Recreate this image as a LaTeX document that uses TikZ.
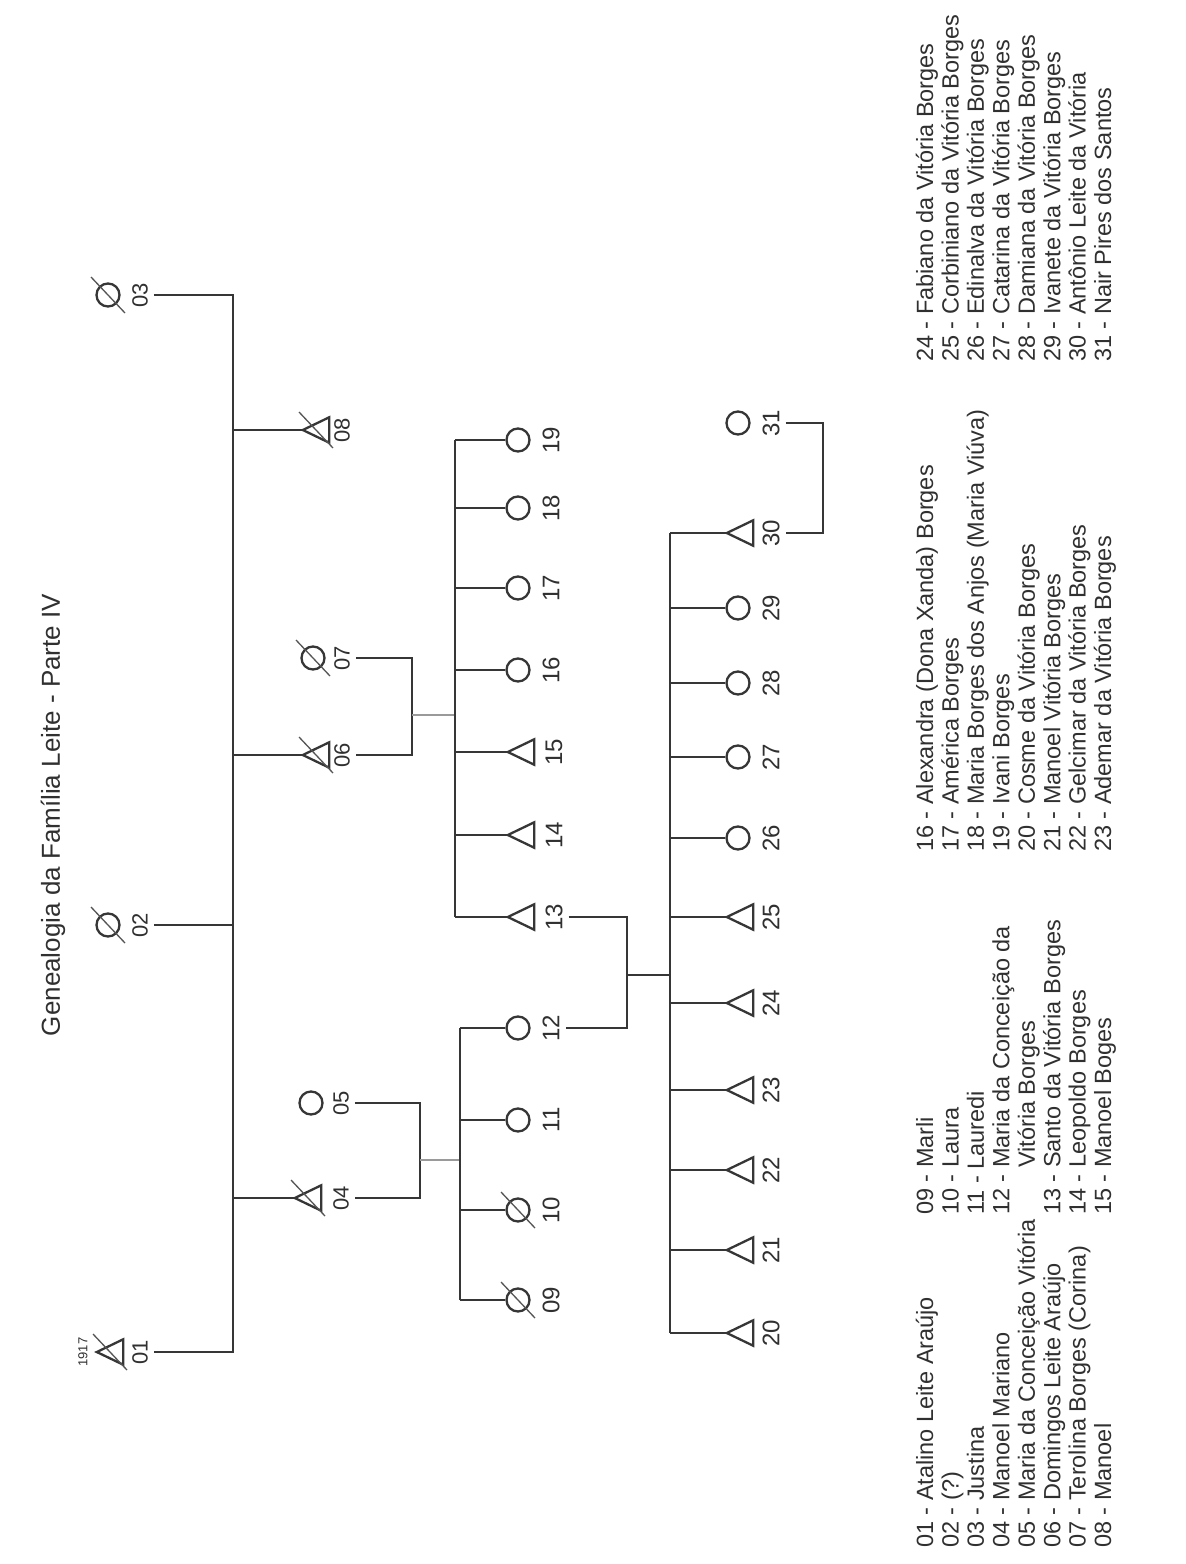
\documentclass[tikz,border=0pt]{standalone}
\usepackage{fontspec}
\setmainfont{Liberation Sans}
\usetikzlibrary{calc}
\definecolor{lc}{HTML}{363636}
\definecolor{tc}{HTML}{303030}
\definecolor{midc}{HTML}{9A9A9A}
\newcommand\malesym[3]{\node[tribox] (#1) at (#2,#3) {};
  \draw[tri] (#1.west) -- (#1.north east) -- (#1.south east) -- cycle;}
\newcommand\femsym[3]{\node[circ] (#1) at (#2,#3) {};}
\newcommand\deadmark[1]{\draw[slash] ([shift={(-17,-18)}]#1.center) -- ([shift={(17,18)}]#1.center);}
\begin{document}
\begin{tikzpicture}[x=1pt,y=-1pt,
  ln/.style={draw=lc,line width=2.2pt},
  mid/.style={draw=midc,line width=1.6pt},
  circ/.style={circle,draw=lc,line width=2.3pt,minimum size=23pt,inner sep=0pt},
  tribox/.style={rectangle,minimum width=26pt,minimum height=25pt,inner sep=0pt},
  tri/.style={draw=lc,line width=2.3pt,line join=miter},
  slash/.style={draw=lc!85,line width=1.3pt},
  lab/.style={rotate=90,text=tc,font=\fontsize{22}{26}\selectfont,inner sep=6pt},
  labb/.style={rotate=90,text=tc,font=\fontsize{24}{28}\selectfont,inner sep=6pt},
  leg/.style={rotate=90,anchor=base west,text=tc,font=\fontsize{23.5}{26}\selectfont,inner sep=0pt},
  ttl/.style={rotate=90,text=tc,font=\fontsize{26}{30}\selectfont,inner sep=0pt},
]
\fill[white] (0,0) rectangle (1186,1564);
\useasboundingbox (0,0) rectangle (1186,1564);

% title
\node[ttl] (title) at (53,815) {Genealogia da Família Leite - Parte IV};

% bar coordinates
\coordinate (b1) at (233,0);
\coordinate (b2) at (420,0);
\coordinate (b3) at (460,0);
\coordinate (b4) at (412,0);
\coordinate (b5) at (455,0);
\coordinate (b6) at (627,0);
\coordinate (b7) at (670,0);
\coordinate (b8) at (823,0);

% generation 1
\malesym{p01}{110}{1352}\deadmark{p01}
\node[rotate=90,text=tc,font=\fontsize{13}{15}\selectfont,inner sep=0pt] (yr01) at (83,1352) {1917};
\node[lab] (l01) at (140,1352) {01};
\femsym{p02}{108}{925}\deadmark{p02}
\node[lab] (l02) at (140,925) {02};
\femsym{p03}{108}{295}\deadmark{p03}
\node[lab] (l03) at (140,295) {03};

% generation 2
\malesym{p04}{308}{1198}\deadmark{p04}
\node[lab] (l04) at (341,1198) {04};
\femsym{p05}{311}{1103}
\node[lab] (l05) at (341,1103) {05};
\malesym{p06}{316}{755}\deadmark{p06}
\node[lab] (l06) at (342,755) {06};
\femsym{p07}{313}{658}\deadmark{p07}
\node[lab] (l07) at (342,658) {07};
\malesym{p08}{316}{430}\deadmark{p08}
\node[lab] (l08) at (342,430) {08};

% generation 3
\femsym{p09}{518}{1300}\deadmark{p09}
\node[labb] (l09) at (551,1300) {09};
\femsym{p10}{518}{1210}\deadmark{p10}
\node[labb] (l10) at (551,1210) {10};
\femsym{p11}{518}{1120}
\node[labb] (l11) at (551,1120) {11};
\femsym{p12}{518}{1028}
\node[labb] (l12) at (551,1028) {12};
\malesym{p13}{521}{917}
\node[labb] (l13) at (554,917) {13};
\malesym{p14}{521}{835}
\node[labb] (l14) at (554,835) {14};
\malesym{p15}{521}{752}
\node[labb] (l15) at (554,752) {15};
\femsym{p16}{518}{670}
\node[labb] (l16) at (551,670) {16};
\femsym{p17}{518}{588}
\node[labb] (l17) at (551,588) {17};
\femsym{p18}{518}{508}
\node[labb] (l18) at (551,508) {18};
\femsym{p19}{518}{440}
\node[labb] (l19) at (551,440) {19};

% generation 4
\malesym{p20}{740}{1333}
\node[labb] (l20) at (771,1333) {20};
\malesym{p21}{740}{1250}
\node[labb] (l21) at (771,1250) {21};
\malesym{p22}{740}{1170}
\node[labb] (l22) at (771,1170) {22};
\malesym{p23}{740}{1090}
\node[labb] (l23) at (771,1090) {23};
\malesym{p24}{740}{1003}
\node[labb] (l24) at (771,1003) {24};
\malesym{p25}{740}{917}
\node[labb] (l25) at (771,917) {25};
\femsym{p26}{738}{838}
\node[labb] (l26) at (771,838) {26};
\femsym{p27}{738}{757}
\node[labb] (l27) at (771,757) {27};
\femsym{p28}{738}{683}
\node[labb] (l28) at (771,683) {28};
\femsym{p29}{738}{608}
\node[labb] (l29) at (771,608) {29};
\malesym{p30}{740}{533}
\node[labb] (l30) at (771,533) {30};
\femsym{p31}{738}{423}
\node[labb] (l31) at (771,423) {31};

% connectors gen 1
\draw[ln] (l03.south) -| (l01.south -| b1) -- (l01.south);
\draw[ln] (l02.south) -- (l02.south -| b1);
\foreach \n in {04,06,08} {\draw[ln] (p\n.west -| b1) -- (p\n.west);}

% couple 04-05
\draw[ln] (l05.south) -| (l04.south -| b2) -- (l04.south);
\coordinate (m45) at (420,1160);
\draw[mid] (m45) -- (m45 -| b3);
\draw[ln] (p12.west -| b3) -- (p09.west -| b3);
\foreach \n in {09,10,11,12} {\draw[ln] (p\n.west -| b3) -- (p\n.west);}

% couple 06-07
\draw[ln] (l07.south) -| (l06.south -| b4) -- (l06.south);
\coordinate (m67) at (412,715);
\draw[mid] (m67) -- (m67 -| b5);
\draw[ln] (p19.west -| b5) -- (p13.west -| b5);
\foreach \n in {13,14,15,16,17,18,19} {\draw[ln] (p\n.west -| b5) -- (p\n.west);}

% couple 12-13
\draw[ln] (l13.south) -| (l12.south -| b6) -- (l12.south);
\coordinate (m1213) at (627,975);
\draw[ln] (m1213) -- (m1213 -| b7);
\draw[ln] (p30.west -| b7) -- (p20.west -| b7);
\foreach \n in {20,21,22,23,24,25,26,27,28,29,30} {\draw[ln] (p\n.west -| b7) -- (p\n.west);}

% couple 30-31
\draw[ln] (l31.south) -| (l30.south -| b8) -- (l30.south);

% legend
\node[leg] (a1) at (933.0,1548) {01 - Atalino Leite Araújo};
\node[leg] (a2) at (958.5,1548) {02 - (?)};
\node[leg] (a3) at (983.9,1548) {03 - Justina};
\node[leg] (a4) at (1009.4,1548) {04 - Manoel Mariano};
\node[leg] (a5) at (1034.8,1548) {05 - Maria da Conceição Vitória};
\node[leg] (a6) at (1060.3,1548) {06 - Domingos Leite Araújo};
\node[leg] (a7) at (1085.7,1548) {07 - Terolina Borges (Corina)};
\node[leg] (a8) at (1111.2,1548) {08 - Manoel};

\node[leg] (b09) at (933.0,1215) {09 - Marli};
\node[leg] (b10) at (958.5,1215) {10 - Laura};
\node[leg] (b11) at (983.9,1215) {11 - Lauredi};
\node[leg] (b12) at (1009.4,1215) {12 - Maria da Conceição da};
\node[leg] (b12b) at (1034.8,1215) {\hphantom{12 - }Vitória Borges};
\node[leg] (b13) at (1060.3,1215) {13 - Santo da Vitória Borges};
\node[leg] (b14) at (1085.7,1215) {14 - Leopoldo Borges};
\node[leg] (b15) at (1111.2,1215) {15 - Manoel Boges};

\node[leg] (c16) at (933.0,852) {16 - Alexandra (Dona Xanda) Borges};
\node[leg] (c17) at (958.5,852) {17 - América Borges};
\node[leg] (c18) at (983.9,852) {18 - Maria Borges dos Anjos (Maria Viúva)};
\node[leg] (c19) at (1009.4,852) {19 - Ivani Borges};
\node[leg] (c20) at (1034.8,852) {20 - Cosme da Vitória Borges};
\node[leg] (c21) at (1060.3,852) {21 - Manoel Vitória Borges};
\node[leg] (c22) at (1085.7,852) {22 - Gelcimar da Vitória Borges};
\node[leg] (c23) at (1111.2,852) {23 - Ademar da Vitória Borges};

\node[leg] (d24) at (933.0,362) {24 - Fabiano da Vitória Borges};
\node[leg] (d25) at (958.5,362) {25 - Corbiniano da Vitória Borges};
\node[leg] (d26) at (983.9,362) {26 - Edinalva da Vitória Borges};
\node[leg] (d27) at (1009.4,362) {27 - Catarina da Vitória Borges};
\node[leg] (d28) at (1034.8,362) {28 - Damiana da Vitória Borges};
\node[leg] (d29) at (1060.3,362) {29 - Ivanete da Vitória Borges};
\node[leg] (d30) at (1085.7,362) {30 - Antônio Leite da Vitória};
\node[leg] (d31) at (1111.2,362) {31 - Nair Pires dos Santos};
\end{tikzpicture}
\end{document}
